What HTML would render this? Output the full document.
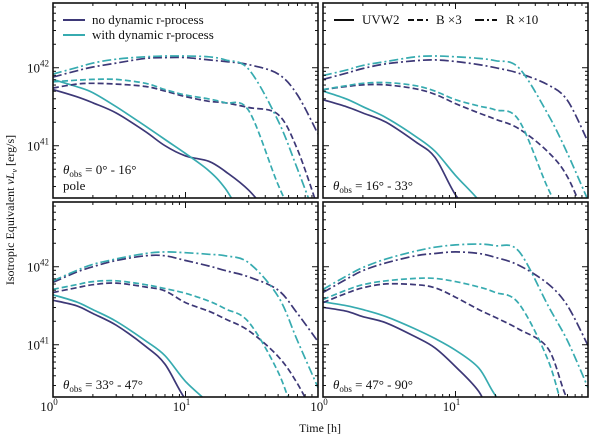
<!DOCTYPE html>
<html><head><meta charset="utf-8">
<style>
body{margin:0;background:#fff;}
svg{display:block;font-family:"Liberation Serif","DejaVu Serif",serif;}
</style></head>
<body>
<svg id="chart" width="600" height="440" viewBox="0 0 600 440" xmlns="http://www.w3.org/2000/svg"></svg>
<script>
const times = [1,1.5,2,3,5,7,10,15,20,30,50,70,100];
const panelTitles = ["0° - 16°","16° - 33°","33° - 47°","47° - 90°"];
// log10 luminance per panel: [noUVW2, withUVW2, noB, withB, noR, withR]
const p1NoUVW2   = [41.72,41.63,41.55,41.42,41.18,41.0,40.87,40.8,40.67,40.43,40.0,39.8,39.6];
const p1WithUVW2 = [41.85,41.76,41.68,41.5,41.25,41.08,40.9,40.68,40.45,40.0,39.8,39.6,39.5];
const p1NoB      = [41.74,41.79,41.8,41.79,41.76,41.7,41.63,41.57,41.55,41.49,41.4,40.95,40.2];
const p1WithB    = [41.82,41.84,41.85,41.85,41.8,41.72,41.65,41.6,41.55,41.45,40.5,40.0,39.6];
const p1NoR      = [41.88,41.96,42.01,42.06,42.12,42.13,42.13,42.1,42.08,42.04,41.92,41.65,41.15];
const p1WithR    = [41.92,42.0,42.06,42.11,42.14,42.15,42.15,42.14,42.1,41.98,41.32,40.7,40.0];
const p2NoUVW2   = [41.59,41.5,41.42,41.3,41.05,40.85,40.37,40.0,39.8,39.6,39.5,39.5,39.5];
const p2WithUVW2 = [41.7,41.6,41.5,41.36,41.12,40.93,40.62,40.3,40.0,39.8,39.6,39.5,39.5];
const p2NoB      = [41.72,41.76,41.78,41.78,41.73,41.66,41.54,41.42,41.34,41.22,40.92,40.6,40.0];
const p2WithB    = [41.72,41.77,41.8,41.81,41.77,41.7,41.59,41.51,41.46,41.33,40.45,40.0,39.6];
const p2NoR      = [41.85,41.93,41.99,42.05,42.09,42.1,42.08,42.04,42.0,41.93,41.78,41.58,41.05];
const p2WithR    = [41.9,41.97,42.03,42.08,42.14,42.15,42.14,42.12,42.09,42.0,41.4,40.9,40.3];
const p3NoUVW2   = [41.57,41.5,41.4,41.25,40.98,40.75,40.3,40.0,39.8,39.6,39.5,39.5,39.5];
const p3WithUVW2 = [41.64,41.55,41.45,41.3,41.05,40.86,40.53,40.25,40.0,39.8,39.6,39.5,39.5];
const p3NoB      = [41.67,41.73,41.77,41.79,41.74,41.69,41.54,41.43,41.33,41.18,40.85,40.5,40.0];
const p3WithB    = [41.71,41.77,41.81,41.82,41.77,41.72,41.66,41.56,41.46,41.29,40.65,40.0,39.6];
const p3NoR      = [41.8,41.93,42.0,42.08,42.14,42.14,42.08,42.01,41.95,41.87,41.7,41.4,41.04];
const p3WithR    = [41.82,41.95,42.03,42.1,42.17,42.19,42.18,42.16,42.14,42.05,41.62,41.05,40.45];
const p4NoUVW2   = [41.48,41.43,41.36,41.28,41.1,40.96,40.72,40.4,40.0,39.8,39.6,39.5,39.5];
const p4WithUVW2 = [41.55,41.5,41.45,41.36,41.2,41.08,40.93,40.7,40.35,40.0,39.8,39.6,39.5];
const p4NoB      = [41.54,41.66,41.73,41.78,41.77,41.73,41.61,41.45,41.35,41.2,40.95,40.3,40.0];
const p4WithB    = [41.58,41.7,41.77,41.82,41.85,41.85,41.81,41.74,41.67,41.53,40.8,40.0,39.6];
const p4NoR      = [41.67,41.84,41.95,42.05,42.14,42.17,42.19,42.17,42.12,42.02,41.78,41.5,40.99];
const p4WithR    = [41.71,41.88,41.99,42.1,42.2,42.25,42.28,42.29,42.27,42.2,41.5,41.05,40.45];
const panelSeries = [
  [p1NoUVW2,p1WithUVW2,p1NoB,p1WithB,p1NoR,p1WithR],
  [p2NoUVW2,p2WithUVW2,p2NoB,p2WithB,p2NoR,p2WithR],
  [p3NoUVW2,p3WithUVW2,p3NoB,p3WithB,p3NoR,p3WithR],
  [p4NoUVW2,p4WithUVW2,p4NoB,p4WithB,p4NoR,p4WithR]
];
const seriesNames = ["no-rprocess-uvw2","with-rprocess-uvw2","no-rprocess-b","with-rprocess-b","no-rprocess-r","with-rprocess-r"];

const NS="http://www.w3.org/2000/svg";
const svg=document.getElementById('chart');
const DARK="#3d3877", TEAL="#37abb0";
const colors=[DARK,TEAL,DARK,TEAL,DARK,TEAL];
const dashes=["none","none","6,3","6,3","9,3,2,3","9,3,2,3"];
const panels=[{x:53,y:3},{x:323,y:3},{x:53,y:202},{x:323,y:202}];
const PW=265, PH=195;
const X0=0, X1=2;
const Y0=40.33, Y1=42.83;
function mk(tag,attrs,parent){const e=document.createElementNS(NS,tag);for(const k in attrs)e.setAttribute(k,attrs[k]);(parent||svg).appendChild(e);return e;}
function xs(p,t){return p.x+(Math.log10(t)-X0)/(X1-X0)*PW;}
function ys(p,v){return p.y+PH-(v-Y0)/(Y1-Y0)*PH;}
function smooth(pts){
  let d='M'+pts[0][0].toFixed(1)+','+pts[0][1].toFixed(1);
  for(let i=0;i<pts.length-1;i++){
    const p0=pts[Math.max(0,i-1)],p1=pts[i],p2=pts[i+1],p3=pts[Math.min(pts.length-1,i+2)];
    const c1x=p1[0]+(p2[0]-p0[0])/6,c1y=p1[1]+(p2[1]-p0[1])/6;
    const c2x=p2[0]-(p3[0]-p1[0])/6,c2y=p2[1]-(p3[1]-p1[1])/6;
    d+=' C'+c1x.toFixed(1)+','+c1y.toFixed(1)+' '+c2x.toFixed(1)+','+c2y.toFixed(1)+' '+p2[0].toFixed(1)+','+p2[1].toFixed(1);
  }
  return d;
}

const defs=mk('defs',{});
panels.forEach((p,i)=>{
  const cp=mk('clipPath',{id:'clip'+i},defs);
  mk('rect',{x:p.x,y:p.y,width:PW,height:PH},cp);
});

panels.forEach((p,i)=>{
  const g=mk('g',{});
  
  
  const lines=mk('g',{'clip-path':'url(#clip'+i+')'},g);
  panelSeries[i].forEach((vals,s)=>{
    const pts=vals.map((v,k)=>[xs(p,times[k]),ys(p,v)]);
    const path=mk('path',{d:smooth(pts),fill:'none',stroke:colors[s],'stroke-width':1.7,'stroke-dasharray':dashes[s],'stroke-linejoin':'round'},lines);
    
    
  });
  const tk=mk('g',{stroke:'#111','stroke-width':1},g);
  for(let d=0;d<2;d++)for(let m=1;m<10;m++){
    const t=Math.pow(10,d)*m; const lx=xs(p,t);
    if(lx<=p.x+0.5||lx>=p.x+PW)continue;
    const L=m===1?6:3;
    mk('line',{x1:lx,y1:p.y+PH,x2:lx,y2:p.y+PH-L},tk);
    mk('line',{x1:lx,y1:p.y,x2:lx,y2:p.y+L},tk);
  }
  for(let d=40;d<43;d++)for(let m=1;m<10;m++){
    const v=d+Math.log10(m); if(v<=Y0||v>=Y1)continue;
    const ly=ys(p,v); const L=m===1?6:3;
    mk('line',{x1:p.x,y1:ly,x2:p.x+L,y2:ly},tk);
    mk('line',{x1:p.x+PW,y1:ly,x2:p.x+PW-L,y2:ly},tk);
  }
  const fr=mk('rect',{x:p.x,y:p.y,width:PW,height:PH,fill:'none',stroke:'#111','stroke-width':1.6},g);
  
  
  const ann=mk('text',{x:p.x+10,y:p.y+PH-24+(i===0?0:16),'font-size':13,fill:'#111'},g);
  
  
  ann.innerHTML='<tspan font-style="italic">θ</tspan><tspan font-size="9" dy="3">obs</tspan><tspan dy="-3"> = '+panelTitles[i]+'</tspan>';
  if(i===0){
    const pl=mk('text',{x:p.x+10,y:p.y+PH-8,'font-size':13,fill:'#111'},g);
    
    
    pl.textContent='pole';
  }
  if(p.x===53){
    [41,42].forEach(d=>{
      const t=mk('text',{x:p.x-4,y:ys(p,d)+5,'text-anchor':'end','font-size':13,fill:'#111'},svg);
      
      
      t.innerHTML='10<tspan font-size="9" dy="-6">'+d+'</tspan>';
    });
  }
  if(p.y===202){
    [1,10].forEach((tv,j)=>{
      const t=mk('text',{x:xs(p,tv)-4,y:411,'text-anchor':'middle','font-size':13,fill:'#111'},svg);
      
      
      t.innerHTML='10<tspan font-size="9" dy="-6">'+j+'</tspan>';
    });
  }
});
</script>
<script>
(function(){
const NS="http://www.w3.org/2000/svg";const svg=document.getElementById('chart');
function mk(tag,attrs,parent){const e=document.createElementNS(NS,tag);for(const k in attrs)e.setAttribute(k,attrs[k]);(parent||svg).appendChild(e);return e;}
const lg=mk('g',{'font-size':13,fill:'#111'});


mk('line',{x1:63,y1:20,x2:85,y2:20,stroke:'#3d3877','stroke-width':2},lg);
mk('text',{x:92,y:24},lg).textContent='no dynamic r-process';
mk('line',{x1:63,y1:35,x2:85,y2:35,stroke:'#37abb0','stroke-width':2},lg);
mk('text',{x:92,y:39},lg).textContent='with dynamic r-process';
mk('line',{x1:334,y1:20,x2:354,y2:20,stroke:'#111','stroke-width':2},lg);
mk('text',{x:362,y:24},lg).textContent='UVW2';
mk('line',{x1:408,y1:20,x2:428,y2:20,stroke:'#111','stroke-width':2,'stroke-dasharray':'6,3'},lg);
mk('text',{x:436,y:24},lg).textContent='B ×3';
mk('line',{x1:475,y1:20,x2:497,y2:20,stroke:'#111','stroke-width':2,'stroke-dasharray':'9,3,2,3'},lg);
mk('text',{x:506,y:24},lg).textContent='R ×10';
const yl=mk('text',{x:0,y:0,'font-size':12,fill:'#111','text-anchor':'middle',transform:'translate(14,210) rotate(-90)'});


yl.innerHTML='Isotropic Equivalent <tspan font-style="italic">νL</tspan><tspan font-size="8" dy="3" font-style="italic">ν</tspan><tspan dy="-3">  [erg/s]</tspan>';
const xl=mk('text',{x:320,y:432,'font-size':12,fill:'#111','text-anchor':'middle'});


xl.textContent='Time [h]';
})();
</script>
</body></html>
